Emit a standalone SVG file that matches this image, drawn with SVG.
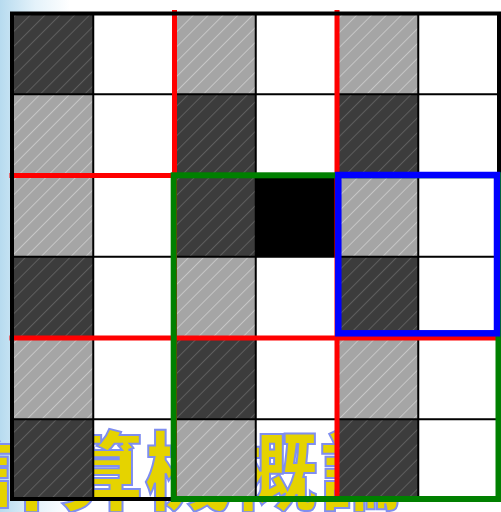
<svg xmlns="http://www.w3.org/2000/svg" width="501" height="512" viewBox="0 0 501 512">
  <defs>
    <linearGradient id="bg" gradientUnits="userSpaceOnUse" x1="0" y1="0" x2="70" y2="0">
      <stop offset="0" stop-color="#b7dbef"/>
      <stop offset="0.5" stop-color="#e4f2fa"/>
      <stop offset="1" stop-color="#ffffff"/>
    </linearGradient>
    <pattern id="pd" patternUnits="userSpaceOnUse" width="10.5" height="10.5" patternTransform="rotate(45)">
      <rect width="10.5" height="10.5" fill="#3c3c3c"/>
      <rect x="0" y="0" width="1" height="10.5" fill="#5e5e5e"/>
    </pattern>
    <pattern id="pg" patternUnits="userSpaceOnUse" width="10.5" height="10.5" patternTransform="rotate(45)">
      <rect width="10.5" height="10.5" fill="#a5a5a5"/>
      <rect x="0" y="0" width="1" height="10.5" fill="#c6c6c6"/>
    </pattern>
  </defs>
  <style>
    .d { fill: url(#pd); }
    .g { fill: url(#pg); }
    .b { fill: #000000; }
    .thin { stroke: #000000; stroke-width: 2; fill: none; }
    .red { stroke: #ff0000; stroke-width: 5; fill: none; }
    .title { font-family: "Noto Sans CJK TC", "Noto Sans CJK SC", sans-serif; font-weight: 900; font-size: 86px; fill: #e5d300; stroke: #7f8ef0; stroke-width: 2; letter-spacing: 1.5px; }
  </style>

  <g id="background">
    <rect x="0" y="0" width="501" height="512" fill="#ffffff"/>
    <rect x="0" y="0" width="70" height="512" fill="url(#bg)"/>
    <text class="title" x="-30" y="504">計算機概論</text>
  </g>

  <g id="cells">
    <rect class="d" x="12" y="13" width="81.25" height="81.25"/>
    <rect class="g" x="174.5" y="13" width="81.25" height="81.25"/>
    <rect class="g" x="337" y="13" width="81.25" height="81.25"/>

    <rect class="g" x="12" y="94.25" width="81.25" height="81.25"/>
    <rect class="d" x="174.5" y="94.25" width="81.25" height="81.25"/>
    <rect class="d" x="337" y="94.25" width="81.25" height="81.25"/>

    <rect class="g" x="12" y="175.5" width="81.25" height="81.25"/>
    <rect class="d" x="174.5" y="175.5" width="81.25" height="81.25"/>
    <rect class="b" x="255.75" y="175.5" width="81.25" height="81.25"/>
    <rect class="g" x="337" y="175.5" width="81.25" height="81.25"/>

    <rect class="d" x="12" y="256.75" width="81.25" height="81.25"/>
    <rect class="g" x="174.5" y="256.75" width="81.25" height="81.25"/>
    <rect class="d" x="337" y="256.75" width="81.25" height="81.25"/>

    <rect class="g" x="12" y="338" width="81.25" height="81.25"/>
    <rect class="d" x="174.5" y="338" width="81.25" height="81.25"/>
    <rect class="g" x="337" y="338" width="81.25" height="81.25"/>

    <rect class="d" x="12" y="419.25" width="81.25" height="81.25"/>
    <rect class="g" x="174.5" y="419.25" width="81.25" height="81.25"/>
    <rect class="d" x="337" y="419.25" width="81.25" height="81.25"/>
  </g>

  <g id="connectors">
    <g id="grid-lines">
      <path class="thin" d="M93.25 13V499 M174.5 13V499 M255.75 13V499 M337 13V499 M418.25 13V499"/>
      <path class="thin" d="M12 94.25H499 M12 175.5H499 M12 256.75H499 M12 338H499 M12 419.25H499"/>
    </g>
    <g id="red-blocks">
      <path class="red" d="M174.5 10V500 M337 10V500 M9.5 175.5H500 M9.5 338H500"/>
    </g>
    <rect id="outer-border" x="12" y="13.5" width="487" height="485.5" fill="none" stroke="#000000" stroke-width="4"/>
    <rect id="green-box" x="173.7" y="175.3" width="324.8" height="323.7" fill="none" stroke="#008000" stroke-width="6"/>
    <rect id="blue-box" x="338.3" y="175" width="158.7" height="158.3" fill="none" stroke="#0000ff" stroke-width="6.5"/>
  </g>
</svg>
